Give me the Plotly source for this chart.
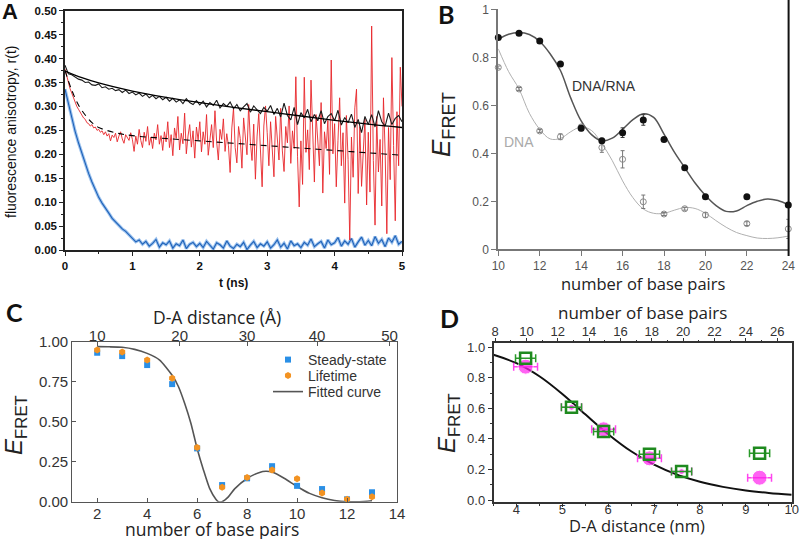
import plotly.graph_objects as go

W, H = 800, 539
def fx(p): return p / W
def fy(p): return 1 - p / H

# ---------------- Panel A data: fluorescence anisotropy decays ----------------
red_step = 0.025
red_r = [
    0.378, 0.362, 0.349, 0.337, 0.328, 0.318, 0.309, 0.300, 0.294, 0.287, 0.283, 0.276, 0.273, 0.266, 0.264, 0.259, 0.262, 0.255, 0.257, 0.250,
    0.252, 0.246, 0.249, 0.241, 0.247, 0.238, 0.243, 0.228, 0.240, 0.235, 0.244, 0.226, 0.238, 0.247, 0.232, 0.223, 0.241, 0.236, 0.229, 0.245,
    0.231, 0.206, 0.238, 0.221, 0.252, 0.229, 0.214, 0.246, 0.227, 0.258, 0.219, 0.236, 0.212, 0.244, 0.230, 0.262, 0.221, 0.239, 0.208, 0.247,
    0.226, 0.268, 0.214, 0.241, 0.197, 0.255, 0.233, 0.279, 0.209, 0.244, 0.222, 0.286, 0.201, 0.238, 0.262, 0.215, 0.249, 0.192, 0.257, 0.230,
    0.268, 0.205, 0.247, 0.221, 0.283, 0.198, 0.239, 0.262, 0.214, 0.291, 0.226, 0.188, 0.252, 0.231, 0.274, 0.206, 0.243, 0.218, 0.162, 0.255,
    0.296, 0.214, 0.182, 0.258, 0.233, 0.171, 0.276, 0.241, 0.199, 0.304, 0.226, 0.187, 0.263, 0.148, 0.238, 0.285, 0.211, 0.132, 0.259, 0.301,
    0.245, 0.176, 0.268, 0.211, 0.153, 0.279, 0.232, 0.188, 0.296, 0.207, 0.164, 0.258, 0.224, 0.301, 0.181, 0.249, 0.212, 0.362, 0.196, 0.090,
    0.228, 0.137, 0.361, 0.204, 0.251, 0.168, 0.355, 0.219, 0.142, 0.283, 0.236, 0.176, 0.308, 0.119, 0.247, 0.212, 0.271, 0.158, 0.397, 0.201,
    0.264, 0.132, 0.229, 0.318, 0.176, 0.245, 0.098, 0.281, 0.189, 0.021, 0.236, 0.152, 0.297, 0.336, 0.118, 0.258, 0.133, 0.207, 0.274, 0.094,
    0.246, 0.121, 0.468, 0.187, 0.052, 0.279, 0.163, 0.231, 0.092, 0.318, 0.204, 0.034, 0.256, 0.147, 0.402, 0.218, 0.061, 0.289, 0.176, 0.382,
    0.300,
]
bw_step = 0.05
black_r = [
    0.386, 0.368, 0.366, 0.361, 0.357, 0.355, 0.350, 0.351, 0.345, 0.344,
    0.347, 0.339, 0.341, 0.336, 0.338, 0.333, 0.335, 0.329, 0.334, 0.327,
    0.330, 0.324, 0.328, 0.321, 0.326, 0.318, 0.323, 0.316, 0.321, 0.314,
    0.319, 0.311, 0.317, 0.309, 0.314, 0.306, 0.316, 0.308, 0.304, 0.312,
    0.303, 0.311, 0.299, 0.308, 0.302, 0.313, 0.297, 0.306, 0.300, 0.309,
    0.295, 0.304, 0.291, 0.299, 0.306, 0.288, 0.301, 0.293, 0.285, 0.298,
    0.290, 0.302, 0.283, 0.296, 0.278, 0.307, 0.281, 0.272, 0.298, 0.262,
    0.287, 0.276, 0.294, 0.268, 0.283, 0.270, 0.291, 0.264, 0.279, 0.285,
    0.270, 0.292, 0.261, 0.277, 0.266, 0.284, 0.256, 0.273, 0.245, 0.279,
    0.262, 0.283, 0.257, 0.291, 0.268, 0.259, 0.286, 0.262, 0.275, 0.281,
    0.268,
]
blue_r = [
    0.336, 0.305, 0.276, 0.248, 0.224, 0.201, 0.178, 0.160, 0.142, 0.125,
    0.110, 0.098, 0.086, 0.077, 0.066, 0.058, 0.052, 0.044, 0.039, 0.031,
    0.024, 0.017, 0.021, 0.012, 0.018, 0.008, 0.014, 0.022, 0.006, 0.015,
    0.011, 0.019, 0.004, 0.013, 0.009, 0.021, 0.003, 0.012, 0.016, 0.007,
    0.014, 0.005, 0.018, 0.009, 0.002, 0.015, 0.011, 0.004, 0.019, 0.008,
    0.003, 0.012, 0.007, 0.016, 0.001, 0.010, 0.018, 0.005, 0.013, 0.008,
    0.017, 0.004, 0.011, 0.021, 0.006, 0.014, 0.002, 0.019, 0.009, 0.013,
    0.005, 0.016, 0.010, 0.023, 0.007, 0.013, 0.018, 0.004, 0.021, 0.011,
    0.015, 0.026, 0.008, 0.019, 0.012, 0.024, 0.006, 0.017, 0.027, 0.010,
    0.020, 0.009, 0.028, 0.014, 0.022, 0.007, 0.025, 0.016, 0.030, 0.012,
    0.018,
]
t_red = [round(i * red_step, 3) for i in range(len(red_r))]
t_bw = [round(i * bw_step, 3) for i in range(len(black_r))]

fit_black_t = [0, 0.25, 0.5, 1, 1.5, 2, 2.5, 3, 3.5, 4, 4.5, 5]
fit_black_r = [0.374, 0.360, 0.349, 0.332, 0.319, 0.308, 0.298, 0.289, 0.280, 0.271, 0.263, 0.256]
fit_red_t = [0, 0.1, 0.2, 0.3, 0.4, 0.5, 0.75, 1, 1.5, 2, 2.5, 3, 3.5, 4, 4.5, 5]
fit_red_r = [0.375, 0.334, 0.303, 0.282, 0.266, 0.256, 0.245, 0.239, 0.233, 0.228, 0.223, 0.218, 0.213, 0.208, 0.203, 0.198]

# ---------------- Panel B data ----------------
bp_b = [10, 11, 12, 13, 14, 15, 16, 17, 18, 19, 20, 22, 24]
e_rna = [0.882, 0.900, 0.868, 0.772, 0.504, 0.452, 0.486, 0.539, 0.458, 0.340, 0.219, 0.219, 0.185]
e_rna_err = [0.005, 0.005, 0.008, 0.005, 0.01, 0.01, 0.02, 0.022, 0.005, 0.005, 0.004, 0.004, 0.005]
e_dna = [0.758, 0.668, 0.493, 0.469, 0.51, 0.424, 0.375, 0.198, 0.147, 0.169, 0.143, 0.107, 0.085]
e_dna_err = [0.006, 0.006, 0.006, 0.012, 0.008, 0.02, 0.036, 0.028, 0.006, 0.006, 0.01, 0.008, 0.04]
bp_curve = [10, 10.5, 11, 11.5, 12, 12.5, 13, 13.5, 14, 14.5, 15, 15.5, 16, 16.5, 17, 17.5,
            18, 18.5, 19, 19.5, 20, 20.5, 21, 21.5, 22, 22.5, 23, 23.5, 24]
rna_curve = [0.875, 0.896, 0.903, 0.895, 0.866, 0.815, 0.745, 0.63, 0.535, 0.478, 0.452, 0.463, 0.5, 0.54, 0.565, 0.55,
             0.48, 0.405, 0.34, 0.276, 0.224, 0.183, 0.158, 0.16, 0.182, 0.2, 0.21, 0.203, 0.185]
dna_curve = [0.835, 0.74, 0.668, 0.567, 0.5, 0.46, 0.462, 0.49, 0.51, 0.495, 0.44, 0.37, 0.285, 0.215, 0.168, 0.15,
             0.15, 0.163, 0.174, 0.17, 0.15, 0.12, 0.092, 0.07, 0.057, 0.047, 0.045, 0.048, 0.055]

# ---------------- Panel C data ----------------
bp_c = [2, 3, 4, 5, 6, 7, 8, 9, 10, 11, 12, 13]
steady = [0.931, 0.910, 0.854, 0.735, 0.333, 0.104, 0.146, 0.222, 0.099, 0.079, 0.015, 0.059]
lifetime = [0.948, 0.935, 0.885, 0.771, 0.338, 0.090, 0.152, 0.198, 0.144, 0.055, 0.015, 0.031]
fit_c_x = [2, 2.5, 3, 3.5, 4, 4.5, 5, 5.25, 5.5, 5.75, 6, 6.25, 6.5, 6.75, 6.85, 7.0, 7.25, 7.5,
           8, 8.5, 8.75, 9, 9.5, 10, 10.5, 11, 11.5, 12, 12.5, 13]
fit_c_y = [0.969, 0.968, 0.965, 0.952, 0.927, 0.885, 0.79, 0.72, 0.615, 0.49, 0.333, 0.2, 0.083, 0.015, 0.0, 0.0, 0.03, 0.08,
           0.145, 0.183, 0.19, 0.185, 0.145, 0.095, 0.052, 0.025, 0.008, 0.0, 0.0, 0.006]
c_top_tick_bp = [2.0, 5.3, 8.0, 10.8, 13.7]
c_top_tick_text = ["10", "20", "30", "40", "50"]

# ---------------- Panel D data ----------------
dist_d = [4.2, 5.2, 5.9, 6.9, 7.6, 9.3]
bp_d = [10, 13, 15, 18, 20, 25]
green_e = [0.928, 0.607, 0.448, 0.299, 0.186, 0.306]
green_xerr = [0.22, 0.22, 0.22, 0.22, 0.22, 0.22]
magenta_e = [0.873, 0.607, 0.463, 0.273, 0.186, 0.146]
magenta_xerr = [0.26, 0.22, 0.26, 0.26, 0.22, 0.26]
fit_d_x = [3.5, 4, 4.5, 5, 5.5, 6, 6.5, 7, 7.5, 8, 8.5, 9, 9.5, 10]
fit_d_y = [0.951, 0.896, 0.810, 0.694, 0.561, 0.431, 0.319, 0.231, 0.166, 0.119, 0.086, 0.0625, 0.046, 0.034]

fig = go.Figure()

# Panel A
fig.add_trace(go.Scatter(x=t_bw, y=blue_r, mode="lines", line=dict(color="#9cc2ee", width=3.2),
                         xaxis="x", yaxis="y", showlegend=False))
fig.add_trace(go.Scatter(x=t_bw, y=blue_r, mode="lines", line=dict(color="#1f62b8", width=1.1),
                         xaxis="x", yaxis="y", showlegend=False))
fig.add_trace(go.Scatter(x=t_red, y=red_r, mode="lines", line=dict(color="#e8262a", width=0.9),
                         xaxis="x", yaxis="y", showlegend=False))
fig.add_trace(go.Scatter(x=t_bw, y=black_r, mode="lines", line=dict(color="#1a1a1a", width=1.1),
                         xaxis="x", yaxis="y", showlegend=False))
fig.add_trace(go.Scatter(x=fit_black_t, y=fit_black_r, mode="lines", line=dict(color="#000", width=1.3, shape="spline"),
                         xaxis="x", yaxis="y", showlegend=False))
fig.add_trace(go.Scatter(x=fit_red_t, y=fit_red_r, mode="lines", line=dict(color="#000", width=1.1, dash="6px,5px", shape="spline"),
                         xaxis="x", yaxis="y", showlegend=False))

# Panel B
fig.add_trace(go.Scatter(x=bp_curve, y=dna_curve, mode="lines", line=dict(color="#b0b0b0", width=1, shape="spline"),
                         xaxis="x2", yaxis="y2", showlegend=False))
fig.add_trace(go.Scatter(x=bp_curve, y=rna_curve, mode="lines", line=dict(color="#555", width=1.5, shape="spline"),
                         xaxis="x2", yaxis="y2", showlegend=False))
fig.add_trace(go.Scatter(x=bp_b, y=e_dna, mode="markers", cliponaxis=False,
                         marker=dict(symbol="circle-open", size=6, color="#8a8a8a", line=dict(width=1)),
                         error_y=dict(type="data", array=e_dna_err, color="#777", thickness=1, width=2),
                         xaxis="x2", yaxis="y2", showlegend=False))
fig.add_trace(go.Scatter(x=bp_b, y=e_rna, mode="markers", cliponaxis=False,
                         marker=dict(symbol="circle", size=7, color="#111"),
                         error_y=dict(type="data", array=e_rna_err, color="#333", thickness=1, width=2),
                         xaxis="x2", yaxis="y2", showlegend=False))

# Panel C
fig.add_trace(go.Scatter(x=fit_c_x, y=fit_c_y, mode="lines", name="Fitted curve", legend="legend3",
                         line=dict(color="#555", width=1.6, shape="spline", smoothing=0.6),
                         xaxis="x3", yaxis="y3"))
fig.add_trace(go.Scatter(x=bp_c, y=steady, mode="markers", name="Steady-state", legend="legend", cliponaxis=False,
                         marker=dict(symbol="square", size=6, color="#2a8fe6"),
                         xaxis="x3", yaxis="y3"))
fig.add_trace(go.Scatter(x=bp_c, y=lifetime, mode="markers", name="Lifetime", legend="legend2", cliponaxis=False,
                         marker=dict(symbol="hexagon", size=7, color="#f39322"),
                         xaxis="x3", yaxis="y3"))
# same samples referenced to the top (distance) axis so that axis is drawn
fig.add_trace(go.Scatter(x=bp_c, y=lifetime, mode="markers", marker=dict(opacity=0), hoverinfo="skip",
                         xaxis="x4", yaxis="y3", showlegend=False))

# Panel D
fig.add_trace(go.Scatter(x=fit_d_x, y=fit_d_y, mode="lines", line=dict(color="#111", width=2, shape="spline"),
                         xaxis="x5", yaxis="y5", showlegend=False))
fig.add_trace(go.Scatter(x=dist_d, y=magenta_e, mode="markers", cliponaxis=False,
                         marker=dict(symbol="circle", size=[15, 6, 15, 15, 6, 15], color="#ff22ee"),
                         error_x=dict(type="data", array=magenta_xerr, color="#ff44ee", thickness=1.5, width=4),
                         xaxis="x5", yaxis="y5", showlegend=False))
fig.add_trace(go.Scatter(x=dist_d, y=green_e, mode="markers", cliponaxis=False,
                         marker=dict(symbol="square-open", size=11, color="#1f8a1f", line=dict(width=2.5)),
                         error_x=dict(type="data", array=green_xerr, color="#2a9a2a", thickness=1.5, width=4),
                         xaxis="x5", yaxis="y5", showlegend=False))
# same samples referenced to the top (base pair) axis so that axis is drawn
fig.add_trace(go.Scatter(x=bp_d, y=green_e, mode="markers", marker=dict(opacity=0), hoverinfo="skip",
                         xaxis="x6", yaxis="y5", showlegend=False))

tickA = dict(family="Liberation Sans, Arial", size=11.5, color="#111", weight="bold")
tickB = dict(family="Liberation Sans, Arial", size=12, color="#555")
tickC = dict(family="Liberation Sans, Arial", size=15, color="#333")
tickD = dict(family="Liberation Sans, Arial", size=13, color="#333")
common = dict(showgrid=False, zeroline=False, showline=True, automargin=False)

def leg(ypx):
    return dict(x=fx(268), y=fy(ypx), xanchor="left", yanchor="middle", bgcolor="rgba(0,0,0,0)",
                borderwidth=0, font=dict(family="Liberation Sans, Arial", size=14, color="#333"),
                itemwidth=30)

fig.update_layout(
    template="none",
    width=W, height=H, margin=dict(l=0, r=0, t=0, b=0, autoexpand=False),
    paper_bgcolor="white", plot_bgcolor="white",
    # A
    xaxis=dict(domain=[fx(65), fx(402)], range=[0, 5], anchor="y", dtick=1, linecolor="#222", linewidth=1.5,
               mirror=True, ticks="outside", ticklen=4, tickcolor="#222", tickfont=tickA,
               minor=dict(ticks="outside", ticklen=2, dtick=0.5, tickcolor="#222"), **common),
    yaxis=dict(domain=[fy(250), fy(10.7)], range=[0, 0.5], anchor="x", dtick=0.05, tickformat=".2f",
               linecolor="#222", linewidth=1.5, mirror=True, ticks="outside", ticklen=4, tickcolor="#222",
               tickfont=tickA, minor=dict(ticks="outside", ticklen=2, dtick=0.025, tickcolor="#222"), **common),
    # B
    xaxis2=dict(domain=[fx(498.3), fx(788.3)], range=[10, 24], anchor="y2", dtick=2, linecolor="#777",
                linewidth=1.5, ticks="outside", ticklen=5, tickcolor="#777", tickfont=tickB, **common),
    yaxis2=dict(domain=[fy(249.3), fy(9.3)], range=[0, 1], anchor="x2", dtick=0.2, linecolor="#777",
                linewidth=2, ticks="outside", ticklen=5, tickcolor="#777", tickfont=tickB, **common),
    # C
    xaxis3=dict(domain=[fx(72.2), fx(397)], range=[1, 14], anchor="y3", dtick=2, linecolor="#555",
                linewidth=1.2, mirror=True, ticks="inside", ticklen=4, tickcolor="#555", tickfont=tickC,
                ticklabelstandoff=-2, **common),
    yaxis3=dict(domain=[fy(501.7), fy(341.7)], range=[0, 1], anchor="x3", dtick=0.25, tickformat=".2f",
                linecolor="#555", linewidth=1.2, mirror=True, ticks="inside", ticklen=4, tickcolor="#555",
                tickfont=tickC, **common),
    xaxis4=dict(overlaying="x3", side="top", anchor="y3", range=[1, 14], tickmode="array",
                tickvals=c_top_tick_bp, ticktext=c_top_tick_text, ticks="inside", ticklen=4, tickcolor="#555",
                tickfont=tickC, ticklabelstandoff=-3,
                showgrid=False, zeroline=False, showline=False, automargin=False),
    # D
    xaxis5=dict(domain=[fx(493.5), fx(791.7)], range=[3.5, 10], anchor="y5", dtick=1, linecolor="#333",
                linewidth=1.5, mirror=True, ticks="outside", ticklen=3, tickcolor="#333", tickfont=tickD,
                ticklabelstandoff=-8,
                minor=dict(ticks="outside", ticklen=2, dtick=0.5, tickcolor="#333"), **common),
    yaxis5=dict(domain=[fy(502), fy(343.3)], range=[-0.013, 1.026], anchor="x5", dtick=0.2, tick0=0,
                tickformat=".1f", linecolor="#333", linewidth=1.5, mirror=True, ticks="outside", ticklen=4,
                tickcolor="#333", tickfont=tickD,
                minor=dict(ticks="outside", ticklen=2, dtick=0.1, tickcolor="#333"), **common),
    xaxis6=dict(overlaying="x5", side="top", anchor="y5", range=[7.9, 26.93], dtick=2, tick0=0,
                ticks="outside", ticklen=4, tickcolor="#333", tickfont=tickD, ticklabelstandoff=-3,
                minor=dict(ticks="outside", ticklen=2, dtick=1, tickcolor="#333"),
                showgrid=False, zeroline=False, showline=False, automargin=False),
    legend=leg(360), legend2=leg(376), legend3=leg(392),
    shapes=[dict(type="line", xref="paper", yref="paper", x0=fx(788.6), x1=fx(788.6), y0=fy(256), y1=fy(0),
                 line=dict(color="#111", width=2))],
)

def ann(text, x, y, size, color="#111", family="Liberation Sans, Arial", weight="normal", angle=0):
    return dict(text=text, x=fx(x), y=fy(y), xref="paper", yref="paper", showarrow=False,
                xanchor="center", yanchor="middle", textangle=angle,
                font=dict(size=size, color=color, family=family, weight=weight))

efret = "<i>E</i><sub>FRET</sub>"
annotations = [
    ann("A", 10, 11, 22, weight="bold"),
    ann("fluorescence anisotropy, r(t)", 11, 132, 14, angle=-90),
    ann("t (ns)", 233, 283, 12, weight="bold"),
    ann("B", 446, 14, 25, family="Lato", weight="bold"),
    ann(efret, 443, 125, 26, color="#222", angle=-90),
    ann("number of base pairs", 643, 283, 16.5, color="#222", family="Open Sans"),
    ann("DNA/RNA", 604, 86, 14, color="#333"),
    ann("DNA", 519, 142, 14, color="#aaa"),
    ann("C", 14, 312, 25, family="Lato", weight="bold"),
    ann("D-A distance (Å)", 217, 317, 17.5, color="#222", family="Open Sans"),
    ann("number of base pairs", 212, 529, 17.5, color="#222", family="Open Sans"),
    ann(efret, 15, 425, 24, color="#222", angle=-90),
    ann("D", 449, 318, 25, family="Lato", weight="bold"),
    ann("number of base pairs", 642, 312, 17, color="#222", family="Open Sans"),
    ann("D-A distance (nm)", 637, 525, 16.5, color="#222", family="Open Sans"),
    ann(efret, 448, 423, 24, color="#222", angle=-90),
]
fig.update_layout(annotations=annotations)

fig.write_html("out.html", config={"displayModeBar": False},
               post_script="document.body.style.margin='0px';")
